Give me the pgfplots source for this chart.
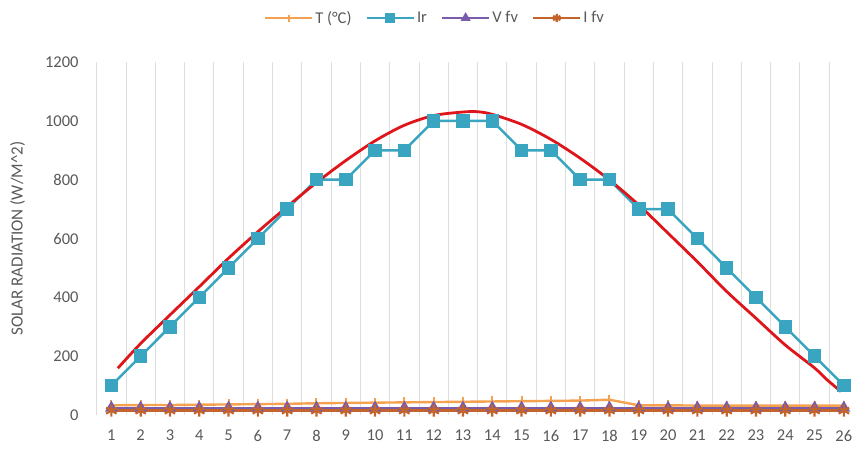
\documentclass[border=0pt]{standalone}
\usepackage{pgfplots}
\pgfplotsset{compat=1.18}
\usepackage{fontspec}
\setmainfont{Carlito}
\definecolor{tcol}{RGB}{245,162,80}
\definecolor{ircol}{RGB}{58,165,192}
\definecolor{vcol}{RGB}{122,92,170}
\definecolor{icol}{RGB}{196,100,42}
\definecolor{redc}{RGB}{222,22,28}
\definecolor{txt}{RGB}{89,89,89}
\definecolor{grd}{RGB}{222,222,222}
\begin{document}
\begin{tikzpicture}[x=1pt,y=1pt]
\begin{axis}[
  at={(96.7pt,-415pt)}, anchor=south west,
  scale only axis, width=761.8pt, height=353pt,
  xmin=0.5, xmax=26.5, ymin=0, ymax=1200,
  xtick={1,...,26}, ytick={0,200,...,1200},
  minor xtick={0.5,1.5,...,26.5},
  xminorgrids, minor grid style={grd, line width=1pt},
  major tick length=0pt, minor tick length=0pt,
  axis line style={draw=none},
  every tick label/.append style={inner sep=0pt},
  tick label style={font=\fontsize{16.5}{19}\selectfont, text=txt},
  /pgf/number format/assume math mode=true,
  /pgf/number format/1000 sep={},
  yticklabel style={xshift=-18pt},
  xticklabel style={yshift=-15pt},
  ylabel={SOLAR RADIATION (W/M\textasciicircum 2)},
  ylabel style={at={(axis description cs:-0.104,0.5)}, anchor=center, font=\fontsize{17}{20}\selectfont, text=txt},
  legend columns=4,
  legend style={at={(axis description cs:0.444,1.1246)}, anchor=center, draw=none, fill=none,
    font=\fontsize{16.5}{19}\selectfont, text=txt,
    /tikz/every even column/.append style={column sep=12pt}},
  legend image code/.code={\draw[mark repeat=2,mark phase=2,#1,every mark/.append style={scale=0.7}] plot coordinates {(0pt,0pt)(23.5pt,0pt)(47pt,0pt)};},
]
\addplot[tcol, line width=2.4pt, mark=|, mark size=5pt, mark options={line width=2pt}] coordinates {
(1,33)(2,34)(3,34)(4,35)(5,36)(6,37)(7,38)(8,40)(9,41)(10,42)(11,43)(12,44)(13,45)
(14,46)(15,47)(16,48)(17,49)(18,52)(19,33)(20,33)(21,32)(22,32)(23,32)(24,32)(25,32)(26,32)};
\addlegendentry{T (°C)}
\addplot[ircol, line width=2.5pt, mark=square*, mark size=5.5pt, mark options={solid}] coordinates {
(1,100)(2,200)(3,300)(4,400)(5,500)(6,600)(7,700)(8,800)(9,800)(10,900)(11,900)(12,1000)(13,1000)
(14,1000)(15,900)(16,900)(17,800)(18,800)(19,700)(20,700)(21,600)(22,500)(23,400)(24,300)(25,200)(26,100)};
\addlegendentry{Ir}
\addplot[vcol, line width=2.4pt, mark=triangle*, mark size=5pt] coordinates {
(1,24)(2,24)(3,24)(4,24)(5,24)(6,24)(7,24)(8,24)(9,24)(10,24)(11,24)(12,24)(13,24)
(14,24)(15,24)(16,24)(17,24)(18,24)(19,24)(20,24)(21,24)(22,24)(23,24)(24,24)(25,24)(26,24)};
\addlegendentry{V fv}
\addplot[icol, line width=2.4pt, mark=asterisk, mark size=6pt, mark options={line width=2.2pt}] coordinates {
(1,15)(2,15)(3,15)(4,15)(5,15)(6,15)(7,15)(8,15)(9,15)(10,15)(11,15)(12,15)(13,15)
(14,15)(15,15)(16,15)(17,15)(18,15)(19,15)(20,15)(21,15)(22,15)(23,15)(24,15)(25,15)(26,15)};
\addlegendentry{I fv}
\addplot[redc, line width=2.8pt, smooth, forget plot] coordinates {
(1.22,159)(2,243)(3,340)(4,436)(5,533)(6,623)(7,708)(8,790)(9,865)(10,932)(11,985)(12,1018)(13,1030)
(13.5,1031)(14,1022)(15,988)(16,937)(17,873)(18,799)(19,714)(20,618)(21,521)(22,420)(23,329)(24,238)(25,160)(25.4,122)(25.9,80)};
\end{axis}
\pgfresetboundingbox
\useasboundingbox (0pt,0pt) rectangle (853pt,-448pt);
\end{tikzpicture}
\end{document}
